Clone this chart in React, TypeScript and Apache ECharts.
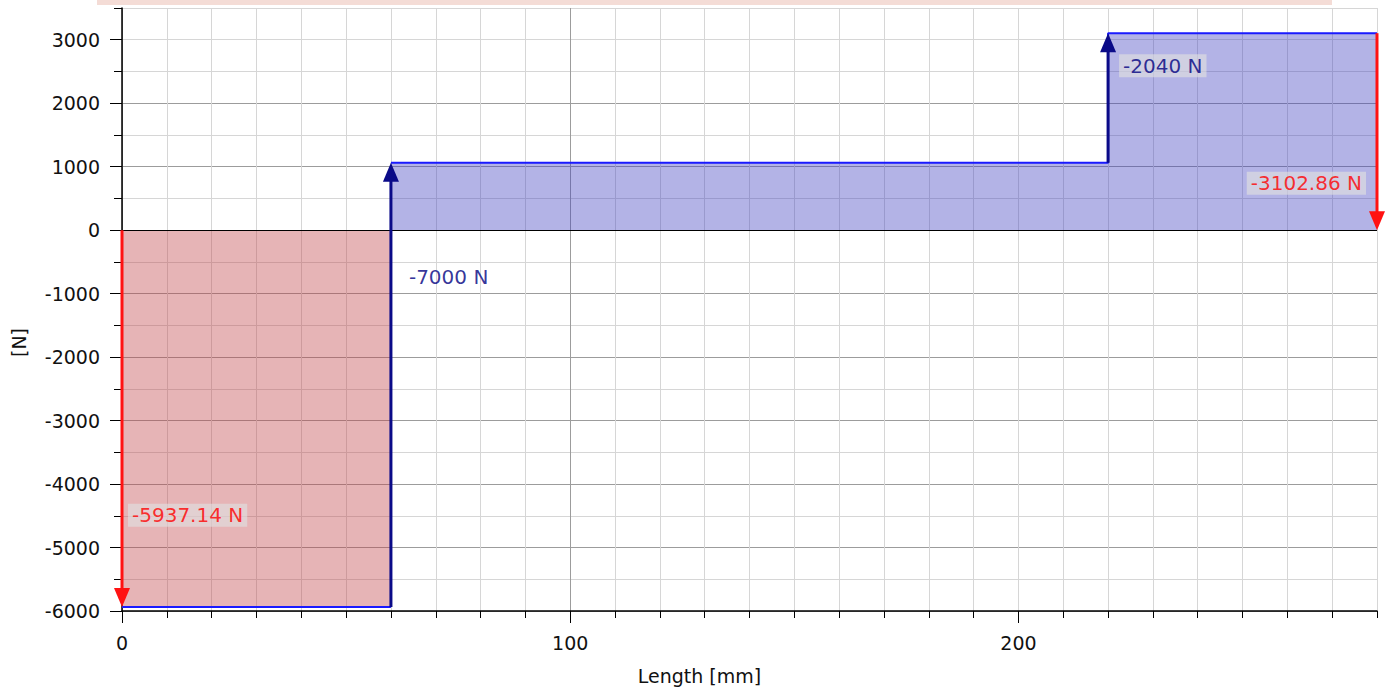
import React, { useEffect, useRef } from "react";
import * as echarts from "echarts";

// ---- data ----
const xMin = 0;
const xMax = 280;
const yMin = -6000;
const yMax = 3500;
const xMajorTicks = [0, 100, 200];
const yMajorTicks = [-6000, -5000, -4000, -3000, -2000, -1000, 0, 1000, 2000, 3000];

// shear force levels (x in mm, value in N)
const negativeSegment = [
  [0, -5937.14],
  [60, -5937.14],
];
const positiveSegment = [
  [60, 1062.86],
  [220, 1062.86],
  [220, 3102.86],
  [280, 3102.86],
];

// force arrows
const arrowX = [0, 60, 220, 280];
const arrowFrom = [0, -5937.14, 1062.86, 3102.86];
const arrowTo = [-5937.14, 1062.86, 3102.86, 0];
const arrowKind = ["reaction", "load", "load", "reaction"];
const forceLabels = ["-5937.14 N", "-7000 N", "-2040 N", "-3102.86 N"];
const labelAnchorY = [-4490, -740, 2590, 740];
const labelSide = ["right", "right", "right", "left"];

const FONT = "DejaVu Sans";
const RED = "#ff1212";
const RED_TEXT = "#ff0000";
const NAVY = "#0a0a88";
const NAVY_TEXT = "#000080";
const LINE_BLUE = "#1a1aff";
const MINOR_GRID = "#d6d6d6";
const MAJOR_GRID = "#9c9c9c";

export default function App() {
  const ref = useRef<HTMLDivElement>(null);

  useEffect(() => {
    if (!ref.current) return;
    const chart = echarts.init(ref.current, null, { renderer: "svg" });

    const labelStyleFor = (i: number) => {
      const isReaction = arrowKind[i] === "reaction";
      const hasBg = forceLabels[i] !== "-7000 N";
      return {
        show: true,
        position: labelSide[i],
        distance: i === 1 ? 14 : i === 0 ? 6 : 11,
        color: isReaction ? RED_TEXT : NAVY_TEXT,
        fontFamily: FONT,
        fontSize: 20,
        backgroundColor: hasBg ? "rgba(224,224,224,0.8)" : "transparent",
        padding: [2, 4, 1, 4],
        formatter: () => forceLabels[i],
      };
    };

    const option: any = {
      animation: false,
      backgroundColor: "#ffffff",
      graphic: [
        {
          type: "rect",
          shape: { x: 97, y: 0, width: 1235, height: 5 },
          style: { fill: "#f4dcd6" },
          silent: true,
        },
      ],
      grid: { left: 122, right: 10, top: 8, bottom: 82, containLabel: false },
      xAxis: [
        {
          type: "value",
          position: "bottom",
          min: xMin,
          max: xMax,
          interval: 10,
          axisLine: { show: true, onZero: false, lineStyle: { color: "#000", width: 1.5 } },
          axisTick: { show: true, length: 7, lineStyle: { color: "#000" } },
          axisLabel: { show: false },
          splitLine: { show: true, lineStyle: { color: MINOR_GRID, width: 1 } },
        },
        {
          type: "value",
          position: "bottom",
          min: xMin,
          max: xMax,
          interval: 100,
          name: "Length [mm]",
          nameLocation: "middle",
          nameGap: 55,
          nameTextStyle: { fontFamily: FONT, fontSize: 19, color: "#111", padding: [0, 100, 0, 0] },
          axisLine: { show: false, onZero: false },
          axisTick: { show: true, length: 12, customValues: xMajorTicks, lineStyle: { color: "#000" } },
          axisLabel: {
            show: true,
            customValues: xMajorTicks,
            margin: 22,
            fontFamily: FONT,
            fontSize: 19,
            color: "#111",
            formatter: (v: number) => String(v),
          },
          splitLine: { show: true, showMaxLine: false, lineStyle: { color: MAJOR_GRID, width: 1 } },
        },
      ],
      yAxis: [
        {
          type: "value",
          position: "left",
          min: yMin,
          max: yMax,
          interval: 500,
          axisLine: { show: true, onZero: false, lineStyle: { color: "#000", width: 1.5 } },
          axisTick: { show: true, length: 8, lineStyle: { color: "#000" } },
          axisLabel: { show: false },
          splitLine: { show: true, lineStyle: { color: MINOR_GRID, width: 1 } },
        },
        {
          type: "value",
          position: "left",
          min: yMin,
          max: yMax,
          interval: 1000,
          name: "[N]",
          nameLocation: "middle",
          nameGap: 94,
          nameTextStyle: { fontFamily: FONT, fontSize: 19, color: "#111", padding: [0, 66, 0, 0] },
          axisLine: { show: false, onZero: false },
          axisTick: { show: true, length: 12, customValues: yMajorTicks, lineStyle: { color: "#000" } },
          axisLabel: {
            show: true,
            customValues: yMajorTicks,
            margin: 22,
            fontFamily: FONT,
            fontSize: 19,
            color: "#111",
            formatter: (v: number) => String(v),
          },
          splitLine: { show: true, showMaxLine: false, lineStyle: { color: MAJOR_GRID, width: 1 } },
        },
      ],
      series: [
        {
          type: "line",
          xAxisIndex: 0,
          yAxisIndex: 0,
          data: negativeSegment,
          symbol: "none",
          lineStyle: { color: LINE_BLUE, width: 2 },
          areaStyle: { color: "rgba(192,67,72,0.4)", opacity: 1 },
          z: 3,
        },
        {
          type: "line",
          xAxisIndex: 0,
          yAxisIndex: 0,
          data: positiveSegment,
          symbol: "none",
          lineStyle: { color: LINE_BLUE, width: 2 },
          areaStyle: { color: "rgba(65,65,192,0.4)", opacity: 1 },
          z: 3,
          markLine: {
            silent: true,
            symbol: "none",
            label: { show: false },
            lineStyle: { color: "#000", width: 1, type: "solid" },
            data: [{ yAxis: 0 }],
          },
        },
        {
          type: "custom",
          xAxisIndex: 0,
          yAxisIndex: 0,
          z: 5,
          clip: false,
          data: arrowX.map((x, i) => [x, arrowFrom[i], arrowTo[i], i]),
          encode: { x: 0, y: [1, 2] },
          renderItem: (params: any, api: any) => {
            const i = api.value(3);
            const p0 = api.coord([api.value(0), api.value(1)]);
            const p1 = api.coord([api.value(0), api.value(2)]);
            const dir = p1[1] > p0[1] ? 1 : -1;
            const headLen = 19;
            const headW = 8;
            const color = arrowKind[i] === "reaction" ? RED : NAVY;
            return {
              type: "group",
              children: [
                {
                  type: "line",
                  shape: { x1: p0[0], y1: p0[1], x2: p1[0], y2: p1[1] - dir * (headLen - 2) },
                  style: { stroke: color, lineWidth: 3 },
                },
                {
                  type: "polygon",
                  shape: {
                    points: [
                      [p1[0], p1[1]],
                      [p1[0] - headW, p1[1] - dir * headLen],
                      [p1[0] + headW, p1[1] - dir * headLen],
                    ],
                  },
                  style: { fill: color },
                },
              ],
            };
          },
        },
        {
          type: "scatter",
          xAxisIndex: 0,
          yAxisIndex: 0,
          symbolSize: 0,
          z: 6,
          silent: true,
          data: arrowX.map((x, i) => ({ value: [x, labelAnchorY[i]], label: labelStyleFor(i) })),
        },
      ],
    };

    chart.setOption(option);
    return () => chart.dispose();
  }, []);

  return (
    <div
      ref={ref}
      style={{ position: "absolute", left: 0, top: 0, width: 1387, height: 693, background: "#fff" }}
    />
  );
}
